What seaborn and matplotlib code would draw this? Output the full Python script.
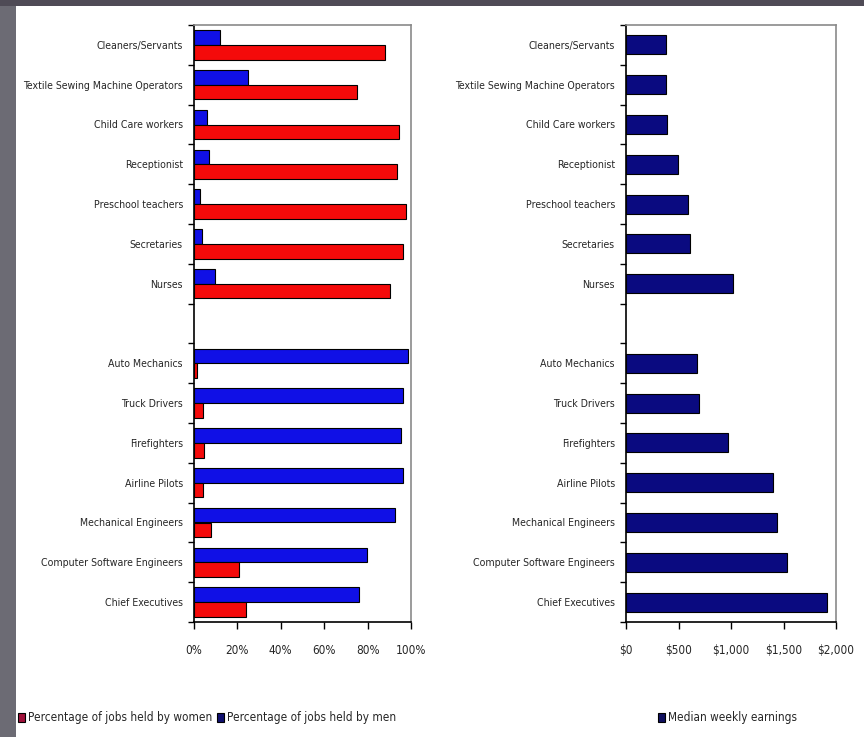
import matplotlib
matplotlib.use("Agg")
import matplotlib.pyplot as plt
import seaborn as sns
import pandas as pd
import numpy as np
from matplotlib.patches import Rectangle, Patch
from matplotlib import font_manager

occupations = ["Cleaners/Servants", "Textile Sewing Machine Operators", "Child Care workers",
               "Receptionist", "Preschool teachers", "Secretaries", "Nurses",
               "Auto Mechanics", "Truck Drivers", "Firefighters", "Airline Pilots",
               "Mechanical Engineers", "Computer Software Engineers", "Chief Executives"]
women_pct = [88, 75, 94.5, 93.5, 97.5, 96.5, 90.5, 1.4, 4.3, 4.8, 4.3, 8.0, 20.6, 24]
men_pct = [12, 25, 5.8, 6.9, 2.8, 3.8, 9.5, 98.7, 96.2, 95.6, 96.2, 92.6, 79.6, 76.1]
weekly_earnings = [381, 381, 390, 498, 594, 613, 1022, 679, 698, 968, 1397, 1441, 1536, 1911]
pct_ticks = [0, 20, 40, 60, 80, 100]
pct_labels = ["0%", "20%", "40%", "60%", "80%", "100%"]
usd_ticks = [0, 500, 1000, 1500, 2000]
usd_labels = ["$0", "$500", "$1,000", "$1,500", "$2,000"]
women_label = "Percentage of jobs held by women"
men_label = "Percentage of jobs held by men"
earn_label = "Median weekly earnings"

GAP = " "
order = occupations[:7] + [GAP] + occupations[7:]

sns.set_style("white")

# pick a narrow font if one is installed
names = {f.name for f in font_manager.fontManager.ttflist}
cond = [f for f in font_manager.fontManager.ttflist
        if f.name == "DejaVu Sans" and f.stretch in ("condensed", "semi-condensed", 500)]
stretch = "normal"
if "Liberation Sans Narrow" in names:
    fam = ["Liberation Sans Narrow", "DejaVu Sans"]
    fs, fsy = 10, 9
elif cond:
    fam = ["DejaVu Sans"]
    stretch = "condensed"
    fs, fsy = 8.5, 7.6
else:
    fam = ["Liberation Sans", "DejaVu Sans"]
    fs, fsy = 8, 6.8
plt.rcParams["font.family"] = fam
plt.rcParams["font.stretch"] = stretch

RED = "#f40a0a"
BLUE = "#1010e6"
NAVY = "#0a0a80"

df_pct = pd.DataFrame({
    "occupation": occupations * 2,
    "pct": men_pct + women_pct,
    "series": [men_label] * len(occupations) + [women_label] * len(occupations),
})
df_earn = pd.DataFrame({"occupation": occupations, "earn": weekly_earnings})

W, H = 864, 737
fig = plt.figure(figsize=(W / 100, H / 100), dpi=100)
fig.patch.set_facecolor("#6c6b74")
fig.patches.append(Rectangle((16 / W, 0), 1 - 16 / W, 1 - 6 / H, transform=fig.transFigure,
                             facecolor="white", edgecolor="none", zorder=-10))
fig.patches.append(Rectangle((0, 1 - 6 / H), 1, 6 / H, transform=fig.transFigure,
                             facecolor="#4f4b56", edgecolor="none", zorder=-10))

ax1 = fig.add_axes([194 / W, 1 - 622 / H, 217 / W, 597 / H])
ax2 = fig.add_axes([626 / W, 1 - 622 / H, 210 / W, 597 / H])

sns.barplot(data=df_pct, y="occupation", x="pct", hue="series", order=order,
            hue_order=[men_label, women_label], palette=[BLUE, RED], orient="h",
            width=0.74, gap=0, edgecolor="black", linewidth=0.8, legend=False,
            saturation=1, ax=ax1)
sns.barplot(data=df_earn, y="occupation", x="earn", order=order, color=NAVY, orient="h",
            width=0.48, edgecolor="black", linewidth=0.8, saturation=1, ax=ax2)

for ax, ticks, labels, xmax in [(ax1, pct_ticks, pct_labels, 100), (ax2, usd_ticks, usd_labels, 2000)]:
    ax.set_facecolor("none")
    ax.set_xlim(0, xmax)
    ax.set_ylim(len(order) - 0.5, -0.5)
    ax.set_xticks(ticks)
    ax.set_xticklabels(labels, fontsize=fs)
    ax.set_yticks(np.arange(-0.5, len(order), 1))
    ax.set_yticklabels([])
    ax.set_yticks(np.arange(len(order)), minor=True)
    ax.set_yticklabels(order, minor=True, fontsize=fsy)
    ax.tick_params(axis="y", which="major", length=4, width=1, color="black", direction="out", left=True)
    ax.tick_params(axis="y", which="minor", length=0, pad=8)
    ax.tick_params(axis="x", length=5, width=1, color="black", direction="out", bottom=True, pad=11)
    ax.set_xlabel("")
    ax.set_ylabel("")
    for s in ["left", "bottom"]:
        ax.spines[s].set_color("black")
        ax.spines[s].set_linewidth(1.2)
    for s in ["top", "right"]:
        ax.spines[s].set_color("#8a8a8a")
        ax.spines[s].set_linewidth(1.2)
        ax.spines[s].set_visible(True)

h1 = [Patch(facecolor="#a0103a", edgecolor="black", linewidth=0.8, label=women_label),
      Patch(facecolor="#101070", edgecolor="black", linewidth=0.8, label=men_label)]
fig.legend(handles=h1, loc="center left", bbox_to_anchor=(18 / W, 1 - 718 / H), ncol=2,
           frameon=False, handlelength=0.6, handleheight=0.9, handletextpad=0.25,
           columnspacing=0.4, fontsize=fs, borderaxespad=0, borderpad=0)
h2 = [Patch(facecolor="#101060", edgecolor="black", linewidth=0.8, label=earn_label)]
fig.legend(handles=h2, loc="center left", bbox_to_anchor=(658 / W, 1 - 718 / H), ncol=1,
           frameon=False, handlelength=0.6, handleheight=0.9, handletextpad=0.25,
           fontsize=fs, borderaxespad=0, borderpad=0)

fig.savefig("out.png", dpi=100, facecolor=fig.get_facecolor())
